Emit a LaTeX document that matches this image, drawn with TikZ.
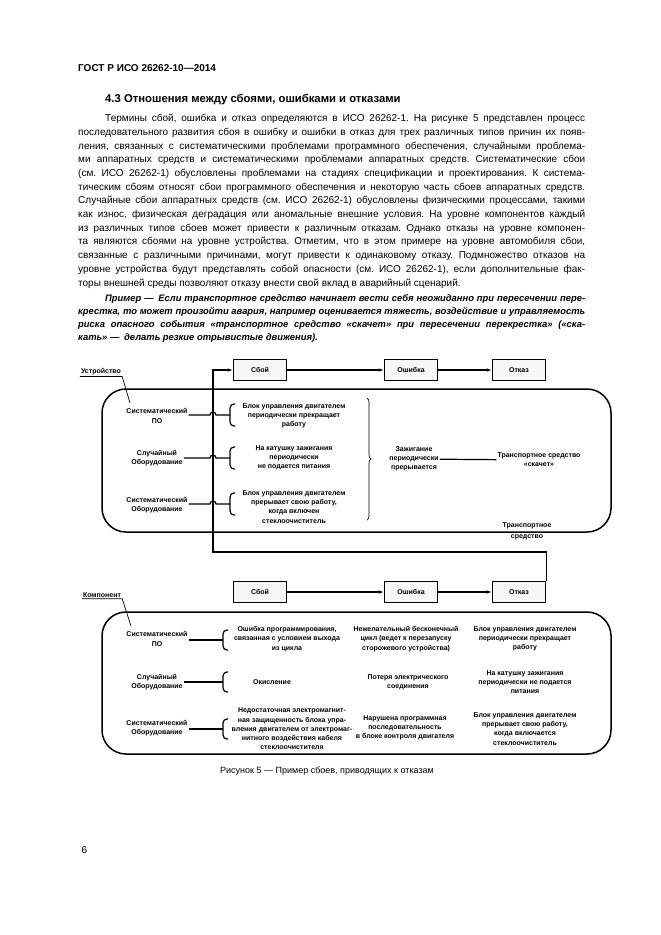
\documentclass[tikz,border=0pt]{standalone}
\usepackage{fontspec}
\setmainfont{Liberation Sans}
\usetikzlibrary{arrows.meta,decorations.pathreplacing}

\newcommand\dgfont{\fontsize{7}{9.2}\selectfont\bfseries}
\tolerance=9999
\emergencystretch=20pt
\frenchspacing

\begin{document}
\begin{tikzpicture}[x=1pt,y=-1pt,
    stage/.style={draw, line width=1.3pt, fill=gray!6, minimum width=53pt, minimum height=21pt, inner sep=0pt, font=\dgfont},
    lbl/.style={align=center, font=\dgfont, inner sep=1pt},
    conn/.style={line width=1.2pt},
    arr/.style={line width=1.2pt, -{Latex[length=5pt,width=3.5pt]}},
    hold/.style={line width=1.5pt, rounded corners=24pt},
    brk/.style={line width=1.2pt, rounded corners=4pt},
    lead/.style={line width=0.7pt}]
    \useasboundingbox[fill=white] (0,0) rectangle (661,935);

    % Page text
    \node[anchor=base west, inner sep=0pt, font=\bfseries] (hdr) at (78,71) {ГОСТ Р ИСО 26262-10—2014};
    \node[anchor=base west, inner sep=0pt, font=\fontsize{11.3}{13}\selectfont\bfseries] (sec) at (105,102) {4.3 Отношения между сбоями, ошибками и отказами};
    \node[anchor=north west, text width=507pt, align=justify, inner sep=0pt,
          font=\fontsize{10}{13.7}\selectfont] (body) at (78,114) {\hspace*{27pt}Термины сбой, ошибка и отказ определяются в ИСО 26262-1. На рисунке 5 представлен процесс\linebreak
    последовательного развития сбоя в ошибку и ошибки в отказ для трех различных типов причин их появ-\linebreak
    ления, связанных с систематическими проблемами программного обеспечения, случайными проблема-\linebreak
    ми аппаратных средств и систематическими проблемами аппаратных средств. Систематические сбои\linebreak
    (см. ИСО 26262-1) обусловлены проблемами на стадиях спецификации и проектирования. К система-\linebreak
    тическим сбоям относят сбои программного обеспечения и некоторую часть сбоев аппаратных средств.\linebreak
    Случайные сбои аппаратных средств (см. ИСО 26262-1) обусловлены физическими процессами, такими\linebreak
    как износ, физическая деградация или аномальные внешние условия. На уровне компонентов каждый\linebreak
    из различных типов сбоев может привести к различным отказам. Однако отказы на уровне компонен-\linebreak
    та являются сбоями на уровне устройства. Отметим, что в этом примере на уровне автомобиля сбои,\linebreak
    связанные с различными причинами, могут привести к одинаковому отказу. Подмножество отказов на\linebreak
    уровне устройства будут представлять собой опасности (см. ИСО 26262-1), если дополнительные фак-\linebreak
    торы внешней среды позволяют отказу внести свой вклад в аварийный сценарий.};
    \node[anchor=north west, text width=507pt, align=justify, inner sep=0pt,
          font=\fontsize{9.4}{13}\selectfont\bfseries\itshape] (expl) at (78,294) {\hspace*{27pt}Пример —\enspace Если транспортное средство начинает вести себя неожиданно при пересечении пере-\linebreak
    крестка, то может произойти авария, например оценивается тяжесть, воздействие и управляемость\linebreak
    риска опасного события «транспортное средство «скачет» при пересечении перекрестка» («ска-\linebreak
    кать» —\enspace делать резкие отрывистые движения).};

    % Stages
    \node[stage] (sb1) at (260,370) {Сбой};
    \node[stage] (er1) at (411,370) {Ошибка};
    \node[stage] (ot1) at (519,370) {Отказ};
    \node[stage] (sb2) at (260,592) {Сбой};
    \node[stage] (er2) at (411,592) {Ошибка};
    \node[stage] (ot2) at (519,592) {Отказ};
    \draw[arr] (sb1) -- (er1);
    \draw[arr] (er1) -- (ot1);
    \draw[arr] (sb2) -- (er2);
    \draw[arr] (er2) -- (ot2);

    % Feedback from the component failure to the device fault
    \coordinate (turn) at (213,552);
    \draw[arr] (ot2.north east) |- (turn) |- (sb1.west);

    % Device level
    \draw[hold] (102,389) rectangle (611,532);
    \node[lbl] (dev) at (101,372) {Устройство};
    \coordinate (devp) at (130,403);
    \draw[lead] (dev.south west) -- (dev.south east) -- (devp);

    \node[lbl] (ds1) at (157,416) {Систематический\\ПО};
    \node[lbl] (ds2) at (157,458) {Случайный\\Оборудование};
    \node[lbl] (ds3) at (157,505) {Систематический\\Оборудование};
    \coordinate (db1) at (230,415);
    \coordinate (db2) at (230,458);
    \coordinate (db3) at (230,504);
    \foreach \r in {1,2,3} {
        \draw[conn] (ds\r.east |- db\r) -- (db\r -| 210,0) arc[start angle=180, end angle=360, radius=3] -- (db\r);
        \draw[brk] (db\r) ++(5,-11) -- ++(-5,0) -- ++(0,22) -- ++(5,0);
    }
    \node[lbl] (dm1) at (294,416) {Блок управления двигателем\\периодически прекращает\\работу};
    \node[lbl] (dm2) at (294,458) {На катушку зажигания\\периодически\\не подается питания};
    \node[lbl] (dm3) at (294,507) {Блок управления двигателем\\прерывает свою работу,\\когда включен\\стеклоочиститель};
    \draw[decorate, decoration={brace, amplitude=4pt}, line width=0.7pt] (367,398) -- (367,520);
    \node[lbl] (ign) at (414,459) {Зажигание\\периодически\\прерывается};
    \node[lbl] (veh) at (539,460) {Транспортное средство\\«скачет»};
    \draw[conn] (ign) -- (veh);
    \node[lbl] (tv) at (527,531) {Транспортное\\[2pt]средство};

    % Component level
    \draw[hold] (102,612) rectangle (611,754);
    \node[lbl] (cmp) at (102,595) {Компонент};
    \coordinate (cmpp) at (131,626);
    \draw[lead] (cmp.south west) -- (cmp.south east) -- (cmpp);

    \node[lbl] (cs1) at (157,639) {Систематический\\ПО};
    \node[lbl] (cs2) at (157,682) {Случайный\\Оборудование};
    \node[lbl] (cs3) at (157,728) {Систематический\\Оборудование};
    \coordinate (cb1) at (223,640);
    \coordinate (cb2) at (223,682);
    \coordinate (cb3) at (223,729);
    \foreach \r in {1,2,3} {
        \draw[conn] (cs\r.east |- cb\r) -- (cb\r);
        \draw[brk] (cb\r) ++(5,-10) -- ++(-5,0) -- ++(0,20) -- ++(5,0);
    }
    \node[lbl] (cf1) at (287,639) {Ошибка программирования,\\связанная с условием выхода\\из цикла};
    \node[lbl] (cf2) at (272,682) {Окисление};
    \node[lbl] (cf3) at (292,729) {Недостаточная электромагнит-\\ная защищенность блока упра-\\вления двигателем от электромаг-\\нитного воздействия кабеля\\стеклоочистителя};
    \node[lbl] (ce1) at (406,639) {Нежелательный бесконечный\\цикл (ведет к перезапуску\\сторожевого устройства)};
    \node[lbl] (ce2) at (408,682) {Потеря электрического\\соединения};
    \node[lbl] (ce3) at (405,728) {Нарушена программная\\последовательность\\в блоке контроля двигателя};
    \node[lbl] (co1) at (525,639) {Блок управления двигателем\\периодически прекращает\\работу};
    \node[lbl] (co2) at (525,682) {На катушку зажигания\\периодически не подается\\питания};
    \node[lbl] (co3) at (525,729) {Блок управления двигателем\\прерывает свою работу,\\когда включается\\стеклоочиститель};

    % Caption and page number
    \node[anchor=base, font=\fontsize{9}{11}\selectfont] (cap) at (327,773) {Рисунок 5 — Пример сбоев, приводящих к отказам};
    \node[anchor=base west, font=\fontsize{10}{12}\selectfont] (pg) at (78,853) {6};
\end{tikzpicture}
\end{document}
